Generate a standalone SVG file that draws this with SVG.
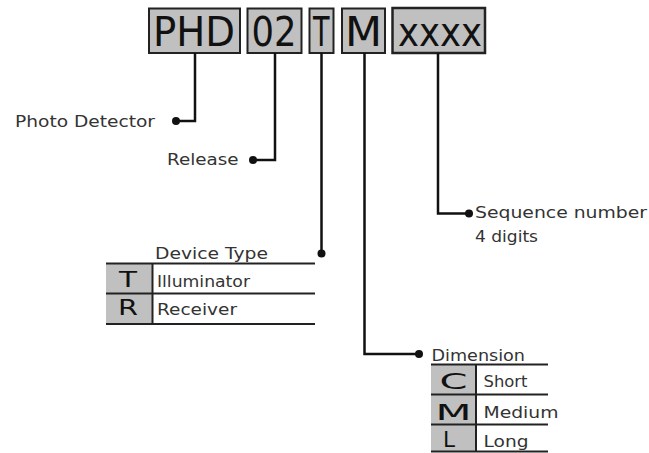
<svg xmlns="http://www.w3.org/2000/svg" width="649" height="453" viewBox="0 0 649 453">
<style>
.box{fill:#c0c0c0;stroke:#222;stroke-width:2}
.code{font-family:"DejaVu Sans","Liberation Sans",sans-serif;font-size:40px;fill:#111}
.lbl{font-family:"DejaVu Sans","Liberation Sans",sans-serif;font-size:16px;fill:#333}
.cell{font-family:"DejaVu Sans","Liberation Sans",sans-serif;font-size:22px;fill:#111;text-anchor:middle}
.conn{fill:none;stroke:#111;stroke-width:2.5}
.rule{stroke:#222;stroke-width:2}
.gray{fill:#c0c0c0}
.dot{fill:#111}
</style>
<rect width="649" height="453" fill="#ffffff"/>
<g id="codes">
<g id="box-phd"><rect class="box" x="149" y="8.5" width="91" height="44.5"/><text class="code" x="153" y="46" textLength="82" lengthAdjust="spacingAndGlyphs">PHD</text></g>
<g id="box-02"><rect class="box" x="247.5" y="8.5" width="54" height="44.5"/><text class="code" x="251.5" y="46" textLength="45" lengthAdjust="spacingAndGlyphs">02</text></g>
<g id="box-t"><rect class="box" x="309.5" y="8.5" width="24" height="44.5"/><text class="code" x="313" y="46" textLength="16.5" lengthAdjust="spacingAndGlyphs">T</text></g>
<g id="box-m"><rect class="box" x="342" y="8.5" width="43" height="44.5"/><text class="code" x="345" y="46" textLength="37" lengthAdjust="spacingAndGlyphs">M</text></g>
<g id="box-xxxx"><rect class="box" x="392.5" y="8" width="92.5" height="45" style="stroke-width:2.5"/><text class="code" x="398" y="46" textLength="84" lengthAdjust="spacingAndGlyphs">xxxx</text></g>
</g>
<g id="connectors">
<path class="conn" d="M195,53 V121 H176"/>
<path class="conn" d="M275,53 V160 H253"/>
<path class="conn" d="M321.5,53 V253"/>
<path class="conn" d="M364.5,53 V354 H419"/>
<path class="conn" d="M438,53 V213.5 H469"/>
<circle class="dot" cx="176" cy="121" r="4"/>
<circle class="dot" cx="253" cy="160" r="4"/>
<circle class="dot" cx="321.5" cy="253.5" r="4"/>
<circle class="dot" cx="419" cy="354" r="4"/>
<circle class="dot" cx="469" cy="213.5" r="4"/>
</g>
<g id="photo-detector"><text class="lbl" x="15" y="126.5" textLength="140" lengthAdjust="spacingAndGlyphs">Photo Detector</text></g>
<g id="release"><text class="lbl" x="167" y="164.5" textLength="71.5" lengthAdjust="spacingAndGlyphs">Release</text></g>
<g id="sequence"><text class="lbl" x="475" y="218" textLength="172" lengthAdjust="spacingAndGlyphs">Sequence number</text><text class="lbl" x="475" y="241.5" textLength="63" lengthAdjust="spacingAndGlyphs">4 digits</text></g>
<g id="device-type">
<text class="lbl" x="155" y="258.5" textLength="113" lengthAdjust="spacingAndGlyphs">Device Type</text>
<rect class="gray" x="106" y="263.5" width="46" height="60.5"/>
<line class="rule" x1="106" y1="263.5" x2="315" y2="263.5"/>
<line class="rule" x1="106" y1="293.5" x2="315" y2="293.5"/>
<line class="rule" x1="106" y1="324" x2="315" y2="324"/>
<line class="rule" x1="152.5" y1="263.5" x2="152.5" y2="324"/>
<text class="cell" x="128" y="286.5" textLength="18" lengthAdjust="spacingAndGlyphs">T</text>
<text class="cell" x="128" y="315" textLength="20" lengthAdjust="spacingAndGlyphs">R</text>
<text class="lbl" x="157" y="286.5" textLength="93" lengthAdjust="spacingAndGlyphs">Illuminator</text>
<text class="lbl" x="157" y="315" textLength="80" lengthAdjust="spacingAndGlyphs">Receiver</text>
</g>
<g id="dimension">
<text class="lbl" x="431.5" y="361" textLength="93.5" lengthAdjust="spacingAndGlyphs">Dimension</text>
<rect class="gray" x="431" y="364.5" width="45" height="87"/>
<line class="rule" x1="431" y1="364.5" x2="548" y2="364.5"/>
<line class="rule" x1="431" y1="394.5" x2="548" y2="394.5"/>
<line class="rule" x1="431" y1="424.5" x2="548" y2="424.5"/>
<line class="rule" x1="431" y1="451.5" x2="548" y2="451.5"/>
<line class="rule" x1="476" y1="364.5" x2="476" y2="451.5"/>
<text class="cell" x="453.5" y="389" textLength="28" lengthAdjust="spacingAndGlyphs">C</text>
<text class="cell" x="453.5" y="420" textLength="36" lengthAdjust="spacingAndGlyphs">M</text>
<text class="cell" x="449" y="447" textLength="12" lengthAdjust="spacingAndGlyphs">L</text>
<text class="lbl" x="483.5" y="386.5" textLength="44" lengthAdjust="spacingAndGlyphs">Short</text>
<text class="lbl" x="483.5" y="417.5" textLength="75" lengthAdjust="spacingAndGlyphs">Medium</text>
<text class="lbl" x="483.5" y="446.5" textLength="45" lengthAdjust="spacingAndGlyphs">Long</text>
</g>
</svg>
